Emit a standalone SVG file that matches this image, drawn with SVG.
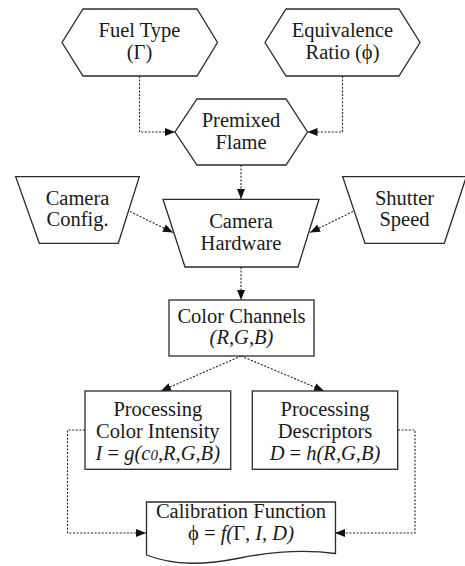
<svg xmlns="http://www.w3.org/2000/svg" width="465" height="566" viewBox="0 0 465 566">
  <style>
    .shape { fill: #ffffff; stroke: #2b2b2b; stroke-width: 1.3; }
    .link { fill: none; stroke: #222222; stroke-width: 1.1; stroke-dasharray: 2 1.6; }
    .label text { font-size: 20.5px; fill: #1a1a1a; text-anchor: middle; }
    .it { font-style: italic; }
    .sub { font-size: 15px; }
  </style>
  <defs>
    <marker id="arrow" viewBox="0 0 10 8" refX="10" refY="4" markerWidth="10" markerHeight="8" markerUnits="userSpaceOnUse" orient="auto">
      <path d="M0,0 L10,4 L0,8 Z" fill="#111111"/>
    </marker>
  </defs>

  <!-- connectors -->
  <g id="connectors">
    <path class="link" d="M139.5,76 V132 H175" marker-end="url(#arrow)"/>
    <path class="link" d="M342.5,76 V132 H307.5" marker-end="url(#arrow)"/>
    <path class="link" d="M241,165 V199" marker-end="url(#arrow)"/>
    <path class="link" d="M130,211.5 L173,232.5" marker-end="url(#arrow)"/>
    <path class="link" d="M353,211.5 L310,232.5" marker-end="url(#arrow)"/>
    <path class="link" d="M241,267 V300" marker-end="url(#arrow)"/>
    <path class="link" d="M241,356 L161,391" marker-end="url(#arrow)"/>
    <path class="link" d="M241,356 L324,391" marker-end="url(#arrow)"/>
    <path class="link" d="M85,430 H67.5 V533 H146" marker-end="url(#arrow)"/>
    <path class="link" d="M398,430 H415 V533 H335" marker-end="url(#arrow)"/>
  </g>

  <g class="label" font-family="Liberation Serif, Times New Roman, serif">
  <!-- inputs -->
  <g id="fuel-type">
    <polygon class="shape" points="83,9 197,9 217.5,42.5 197,76 83,76 62,42.5"/>
    <text x="139.5" y="37">Fuel Type</text>
    <text x="139.5" y="59">(Γ)</text>
  </g>
  <g id="equivalence-ratio">
    <polygon class="shape" points="286,9 399,9 420,42.5 399,76 286,76 265,42.5"/>
    <text x="342.5" y="37">Equivalence</text>
    <text x="342.5" y="59">Ratio (ϕ)</text>
  </g>
  <g id="premixed-flame">
    <polygon class="shape" points="197,99 286,99 307.5,132 286,165 197,165 175,132"/>
    <text x="241" y="126.5">Premixed</text>
    <text x="241" y="148.5">Flame</text>
  </g>

  <!-- camera -->
  <g id="camera-config">
    <polygon class="shape" points="15.7,176.7 139.3,176.7 118.3,243.3 39.3,243.3"/>
    <text x="77.5" y="204.5">Camera</text>
    <text x="77.5" y="226">Config.</text>
  </g>
  <g id="shutter-speed">
    <polygon class="shape" points="342.7,176.7 466.3,176.7 444.3,243.3 365,243.3"/>
    <text x="404.5" y="204.5">Shutter</text>
    <text x="404.5" y="226">Speed</text>
  </g>
  <g id="camera-hardware">
    <polygon class="shape" points="163,199.3 319,199.3 298,267 185,267"/>
    <text x="241" y="228.3">Camera</text>
    <text x="241" y="250">Hardware</text>
  </g>

  <!-- channels and processing -->
  <g id="color-channels">
    <rect class="shape" x="169" y="300" width="145" height="56"/>
    <text x="241.5" y="323">Color Channels</text>
    <text x="241.5" y="344" class="it">(R,G,B)</text>
  </g>
  <g id="color-intensity">
    <rect class="shape" x="85" y="391" width="145.7" height="78.3"/>
    <text x="157.8" y="416">Processing</text>
    <text x="157.8" y="438">Color Intensity</text>
    <text x="157.8" y="460"><tspan class="it">I</tspan> = <tspan class="it">g(c<tspan class="sub">0</tspan>,R,G,B)</tspan></text>
  </g>
  <g id="descriptors">
    <rect class="shape" x="252.3" y="391" width="145.4" height="78.3"/>
    <text x="325" y="416">Processing</text>
    <text x="325" y="438">Descriptors</text>
    <text x="325" y="460"><tspan class="it">D</tspan> = <tspan class="it">h(R,G,B)</tspan></text>
  </g>

  <!-- output -->
  <g id="calibration-function">
    <path class="shape" d="M146.5,502 H335.5 V553.5 C310,550 275,551 240,558 C205,565 175,566 146.5,555 Z"/>
    <text x="241" y="517.5">Calibration Function</text>
    <text x="241" y="539.5">ϕ = <tspan class="it">f(</tspan>Γ<tspan class="it">, I, D)</tspan></text>
  </g>
  </g>
</svg>
